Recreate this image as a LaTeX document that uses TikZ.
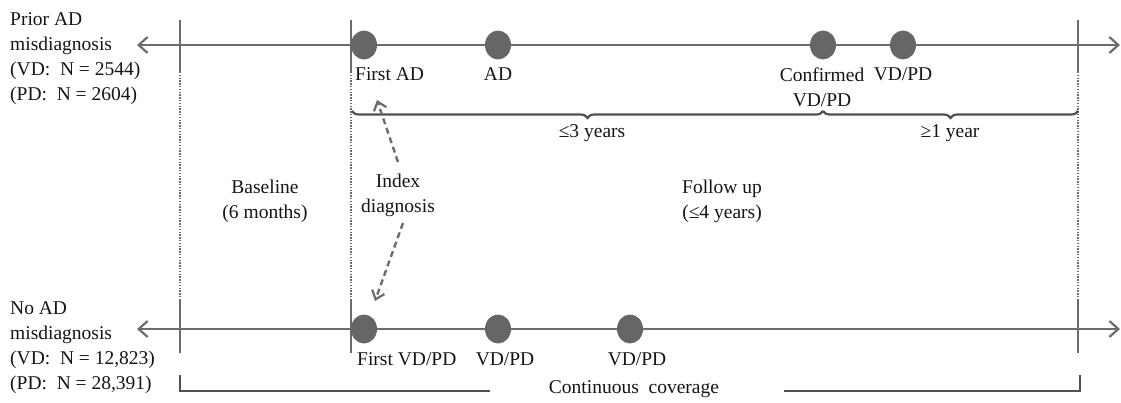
\documentclass[tikz,border=0pt]{standalone}
\usepackage{fontspec}
\setmainfont{Liberation Serif}
\usetikzlibrary{arrows.meta,shapes.geometric,decorations.pathreplacing}
\definecolor{axisgray}{HTML}{6C6C6C}
\definecolor{dotgray}{HTML}{666666}
\definecolor{txt}{HTML}{151515}
\definecolor{brk}{HTML}{505050}
\begin{document}
\begin{tikzpicture}[x=1pt,y=-1pt,
  axis/.style={draw=axisgray,line width=2.4pt,{Straight Barb[length=9pt,width=16pt,line width=2.2pt]}-{Straight Barb[length=9pt,width=16pt,line width=2.2pt]}},
  tick/.style={draw=axisgray,line width=2.4pt},
  dotline/.style={draw=axisgray,line width=2pt,dash pattern=on 1.3pt off 1.5pt},
  evt/.style={ellipse,fill=dotgray,draw=none,minimum width=26pt,minimum height=29pt,inner sep=0pt},
  lbl/.style={text=txt,inner sep=0pt,font=\fontsize{19.5}{25}\selectfont,align=center},
  lbll/.style={lbl,align=left},
  idx/.style={draw=axisgray,line width=2.4pt,dash pattern=on 6pt off 4pt,-{Straight Barb[length=8pt,width=13pt,line width=2.2pt]}},
  brc/.style={draw=brk,line width=2.2pt,decorate,decoration={brace,mirror,amplitude=7pt}},
  cov/.style={draw=brk,line width=2.2pt}
]
\useasboundingbox (0,0) rectangle (1121,402);
% axes
\coordinate (tl) at (137,45); \coordinate (tr) at (1120,45);
\coordinate (bl) at (137,329); \coordinate (br) at (1120,329);
\draw[axis] (tl) -- (tr);
\draw[axis] (bl) -- (br);
% ticks top
\coordinate (ta1) at (180,20); \coordinate (ta2) at (180,72);
\coordinate (tb1) at (351,20); \coordinate (tb2) at (351,72);
\coordinate (tc1) at (1078,20); \coordinate (tc2) at (1078,72);
\draw[tick] (ta1) -- (ta2); \draw[tick] (tb1) -- (tb2); \draw[tick] (tc1) -- (tc2);
% ticks bottom
\coordinate (ba1) at (180,299); \coordinate (ba2) at (180,353);
\coordinate (bb1) at (351,299); \coordinate (bb2) at (351,353);
\coordinate (bc1) at (1078,299); \coordinate (bc2) at (1078,353);
\draw[tick] (ba1) -- (ba2); \draw[tick] (bb1) -- (bb2); \draw[tick] (bc1) -- (bc2);
% dotted guides
\draw[dotline] (ta2) -- (ba1);
\draw[dotline] (tb2) -- (bb1);
\draw[dotline] (tc2) -- (bc1);
% events top
\node[evt] (e1) at (364,45) {};
\node[evt] (e2) at (498,45) {};
\node[evt] (e3) at (823,45) {};
\node[evt] (e4) at (903,45) {};
% events bottom
\node[evt] (f1) at (364,329) {};
\node[evt] (f2) at (498,329) {};
\node[evt] (f3) at (630,329) {};
% labels top
\node[lbl,anchor=west] (l1) at (355,74) {First AD};
\node[lbl] (l2) at (498,74) {AD};
\node[lbl] (l3) at (822,87) {Confirmed\\VD/PD};
\node[lbl] (l4) at (903,74) {VD/PD};
% labels bottom
\node[lbl,anchor=west] (m1) at (357,359) {First VD/PD};
\node[lbl] (m2) at (505,359) {VD/PD};
\node[lbl] (m3) at (637,359) {VD/PD};
% braces
\coordinate (b0) at (352,111); \coordinate (b1) at (823,111); \coordinate (b2) at (1078,111);
\draw[brc] (b0) -- (b1);
\draw[brc] (b1) -- (b2);
\node[lbl] (y3) at (592,133) {≤3 years};
\node[lbl] (y1) at (950,133) {≥1 year};
% side labels
\node[lbll,anchor=west] (p) at (10,59) {Prior AD\\misdiagnosis\\(VD:\ \ N = 2544)\\(PD:\ \ N = 2604)};
\node[lbll,anchor=west] (q) at (10,348) {No AD\\misdiagnosis\\(VD:\ \ N = 12,823)\\(PD:\ \ N = 28,391)};
% period labels
\node[lbl] (base) at (265,201) {Baseline\\(6 months)};
\node[lbl] (index) at (398,195) {Index\\diagnosis};
\node[lbl] (fu) at (722,201) {Follow up\\(≤4 years)};
% index arrows
\coordinate (i1) at (398,162); \coordinate (i1t) at (377,100);
\coordinate (i2) at (403,223); \coordinate (i2t) at (375,301);
\draw[idx] (i1) -- (i1t);
\draw[idx] (i2) -- (i2t);
% continuous coverage
\node[lbl] (cc) at (634,389) {Continuous\hspace{0.5em}coverage};
\coordinate (c0) at (180,375); \coordinate (c1) at (180,391); \coordinate (c2) at (490,391);
\coordinate (c3) at (784,391); \coordinate (c4) at (1080,391); \coordinate (c5) at (1080,375);
\draw[cov] (c0) -- (c1) -- (c2);
\draw[cov] (c3) -- (c4) -- (c5);
\end{tikzpicture}
\end{document}
